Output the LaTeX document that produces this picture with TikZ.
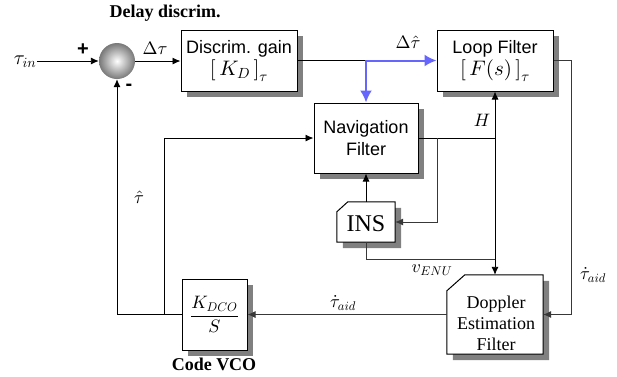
\documentclass[tikz,border=0pt]{standalone}
\usepackage{fontspec}
\setmainfont{Liberation Serif}
\setsansfont{Liberation Sans}
\DeclareFontShape{OML}{cmm}{m}{it}{<->cmmi10}{}
\DeclareFontShape{OMS}{cmsy}{m}{n}{<->cmsy10}{}
\DeclareFontShape{OMX}{cmex}{m}{n}{<->cmex10}{}
\DeclareFontShape{OT1}{cmr}{m}{n}{<->cmr10}{}
\usetikzlibrary{arrows.meta,calc,shadows,backgrounds}
\definecolor{shd}{RGB}{128,128,128}
\definecolor{blu}{RGB}{102,102,255}
\newcommand{\brk}[1]{{\fontsize{21}{22}\selectfont$\left[\rule[-5pt]{0pt}{20pt}\,#1\,\right]_{\tau}$}}
\begin{document}
\begin{tikzpicture}[x=1pt,y=-1pt,
  conn/.style={line width=0.9pt, draw=black},
  gconn/.style={line width=0.9pt, draw=black!78},
  arr/.style={-{Latex[length=8pt,width=7pt]}},
  barr/.style={draw=blu, line width=2pt, line join=miter, {Latex[length=12pt,width=12pt]}-{Latex[length=12pt,width=12pt]}},
  box/.style={draw=black, line width=1pt, fill=white, inner sep=0pt, align=center,
    font=\sffamily\fontsize{18}{22}\selectfont,
    drop shadow={shadow xshift=6pt, shadow yshift=-6pt, fill=shd, opacity=1}},
  plain/.style={inner sep=0pt, draw=none},
  lbl/.style={inner sep=0pt, font=\fontsize{18}{20}\selectfont},
  bold/.style={inner sep=0pt, font=\bfseries\fontsize{18}{20}\selectfont},
  sign/.style={inner sep=0pt, font=\sffamily\bfseries\fontsize{20}{22}\selectfont},
]
\useasboundingbox (0,0) rectangle (617,376);

% blocks
\node[circle, minimum size=36, inner sep=0pt, shading=radial, inner color=white,
      outer color={rgb,255:red,120;green,120;blue,120}] (sum) at (117,61) {};
\node[box, minimum width=116, minimum height=61] (disc) at (239,60.5)
  {Discrim. gain\\[0pt]\brk{K_D}};
\node[box, minimum width=116, minimum height=61] (loop) at (495,60.5)
  {Loop Filter\\[0pt]\brk{F(s)}};
\node[box, minimum width=104, minimum height=70] (nav) at (366,138)
  {Navigation\\Filter};
\node[box, minimum width=65, minimum height=71, font=\fontsize{18}{22}\selectfont] (vco) at (214.5,314.5)
  {$\displaystyle\frac{K_{DCO}}{S}$};
\node[plain, minimum width=58, minimum height=40] (ins) at (366,222) {};
\node[plain, minimum width=96, minimum height=79] (dop) at (495,314.5) {};

\begin{scope}[on background layer]
  \fill[shd] ($(ins.north west)+(6,16)$) -- ($(ins.north west)+(17,6)$) -- ($(ins.north east)+(6,6)$)
    -- ($(ins.south east)+(6,6)$) -- ($(ins.south west)+(6,6)$) -- cycle;
  \draw[fill=white, line width=1pt] ($(ins.north west)+(0,10)$) -- ($(ins.north west)+(11,0)$)
    -- (ins.north east) -- (ins.south east) -- (ins.south west) -- cycle;
  \fill[shd] ($(dop.north west)+(6,22)$) -- ($(dop.north west)+(24,6)$) -- ($(dop.north east)+(6,6)$)
    -- ($(dop.south east)+(6,6)$) -- ($(dop.south west)+(6,6)$) -- cycle;
  \draw[fill=white, line width=1pt] ($(dop.north west)+(0,16)$) -- ($(dop.north west)+(18,0)$)
    -- (dop.north east) -- (dop.south east) -- (dop.south west) -- cycle;
\end{scope}

\node[inner sep=0pt, font=\fontsize{24}{26}\selectfont] (inst) at (366,224) {INS};
\node[inner sep=0pt, align=center, font=\fontsize{18}{21}\selectfont] (dopt) at (496,323)
  {Doppler\\Estimation\\Filter};

% labels
\node[bold] (dl) at (165,13) {Delay discrim.};
\node[bold] (cv) at (214,364) {Code VCO};
\node[inner sep=0pt, font=\fontsize{20}{22}\selectfont] (tinl) at (25,62) {$\tau_{in}$};
\node[sign] (plus) at (83,50) {+};
\node[sign] (minus) at (129,87) {-};
\node[lbl] (dt) at (155,48) {$\Delta\tau$};
\node[lbl] (dth) at (408,42) {$\Delta\hat{\tau}$};
\node[lbl] (hl) at (482,120) {$H$};
\node[lbl] (vl) at (432,270) {$v_{ENU}$};
\node[lbl] (ta1) at (343,303) {$\dot{\tau}_{aid}$};
\node[lbl] (ta2) at (593,275) {$\dot{\tau}_{aid}$};
\node[lbl] (th) at (139,197) {$\hat{\tau}$};

% connectors
\coordinate (tin) at (37,61);
\draw[conn,arr] (tin) -- (sum.west);
\draw[conn,arr] (sum.east) -- (sum.east -| disc.west);
\coordinate (split) at (nav.north |- disc.east);
\draw[conn] (disc.east) -- (split);
\draw[barr] (nav.north) -- (split) -- (split -| loop.west);
\coordinate (rtop) at (571,60.5);
\coordinate (rbot) at (571,314.5);
\draw[gconn,arr] (loop.east) -- (rtop) -- (rbot) -- (dop.east);
\coordinate (jn) at (loop.south |- nav.east);
\draw[conn] (nav.east) -- (jn);
\draw[conn,{Latex[length=8pt,width=7pt]}-{Latex[length=8pt,width=7pt]}] (loop.south) -- (dop.north);
\coordinate (ia) at (437,138);
\coordinate (ib) at (437,222);
\draw[gconn,arr] (ia) -- (ib) -- (ins.east);
\draw[conn,arr] (ins.north) -- (nav.south);
\coordinate (ic) at (366,259);
\draw[gconn] (ins.south) -- (ic) -- (ic -| jn);
\draw[gconn,arr] (dop.west) -- (vco.east);
\coordinate (fa) at (117,314.5);
\draw[conn,arr] (vco.west) -- (fa) -- (sum.south);
\coordinate (fb) at (164,314.5);
\coordinate (fc) at (164,138);
\draw[conn,arr] (fb) -- (fc) -- (nav.west);
\end{tikzpicture}
\end{document}
